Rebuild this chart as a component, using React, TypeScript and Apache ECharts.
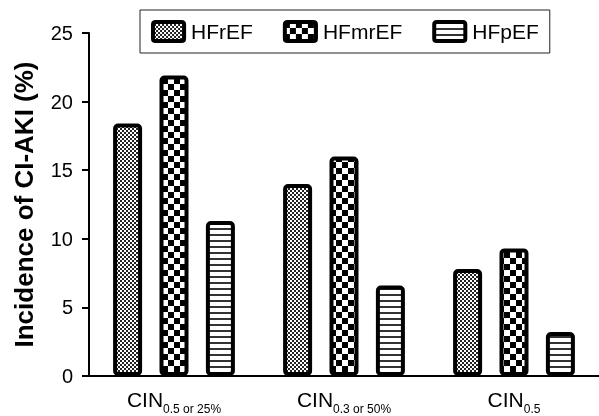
import React, { useEffect, useRef } from "react";
import * as echarts from "echarts";

const categoryPrefix = "CIN";
const categorySubs = ["0.5 or 25%", "0.3 or 50%", "0.5"];
const seriesNames = ["HFrEF", "HFmrEF", "HFpEF"];
const hfrEF = [18.4, 14.0, 7.8];
const hfmrEF = [21.9, 16.0, 9.3];
const hfpEF = [11.3, 6.6, 3.2];
const yTicks = { min: 0, max: 25, interval: 5 };

function makeCanvas(w: number, h: number, draw: (c: CanvasRenderingContext2D) => void) {
  const cv = document.createElement("canvas");
  cv.width = w;
  cv.height = h;
  const ctx = cv.getContext("2d")!;
  ctx.fillStyle = "#fff";
  ctx.fillRect(0, 0, w, h);
  ctx.fillStyle = "#000";
  draw(ctx);
  return cv;
}

export default function App() {
  const ref = useRef<HTMLDivElement>(null);
  useEffect(() => {
    if (!ref.current) return;
    const chart = echarts.init(ref.current, undefined, { renderer: "svg" });
    const fine = makeCanvas(4, 4, (c) => {
      c.fillStyle = "#222";
      c.fillRect(0, 0, 2, 2);
      c.fillRect(2, 2, 2, 2);
    });
    const coarse = makeCanvas(12, 12, (c) => {
      c.fillRect(0, 0, 6, 6);
      c.fillRect(6, 6, 6, 6);
    });
    const stripes = makeCanvas(6, 6, (c) => {
      c.fillStyle = "#333";
      c.fillRect(0, 0, 6, 2);
    });
    const patterns = [
      { image: fine, repeat: "repeat", imageWidth: 4, imageHeight: 4 },
      { image: coarse, repeat: "repeat", imageWidth: 12, imageHeight: 12 },
      { image: stripes, repeat: "repeat", imageWidth: 6, imageHeight: 6 },
    ];
    const values = [hfrEF, hfmrEF, hfpEF];
    const font = "'Liberation Sans', Arial, Helvetica, sans-serif";
    const iconPath =
      "path://M3,0 H33 Q36,0 36,3 V19 Q36,22 33,22 H3 Q0,22 0,19 V3 Q0,0 3,0 Z";
    chart.setOption({
      animation: false,
      textStyle: { fontFamily: font, color: "#000" },
      legend: {
        data: seriesNames,
        left: 140,
        top: 10,
        padding: [10, 11, 10, 11],
        borderColor: "#222",
        borderWidth: 1,
        itemGap: 30,
        itemWidth: 33,
        itemHeight: 19,
        icon: iconPath,
        itemStyle: { borderColor: "#000", borderWidth: 4 },
        textStyle: { fontSize: 21, color: "#000", fontFamily: font, padding: [0, 0, 0, 1] },
      },
      grid: { left: 89, right: -6, top: 33, bottom: 40 },
      xAxis: {
        type: "category",
        data: categorySubs,
        axisLine: { lineStyle: { color: "#000", width: 2 } },
        axisTick: { alignWithLabel: true, length: 8, lineStyle: { color: "#000", width: 2 } },
        axisLabel: {
          margin: 17,
          formatter: (v: string) => `{a|${categoryPrefix}}{b|${v}}`,
          rich: {
            a: { fontSize: 21, lineHeight: 22, padding: [0, 0, 5, 0], verticalAlign: "bottom", color: "#000", fontFamily: font },
            b: { fontSize: 12, lineHeight: 13, verticalAlign: "bottom", color: "#000", fontFamily: font },
          },
        },
      },
      yAxis: {
        type: "value",
        min: yTicks.min,
        max: yTicks.max,
        interval: yTicks.interval,
        name: "Incidence of CI-AKI (%)",
        nameLocation: "middle",
        nameGap: 52,
        nameTextStyle: { fontSize: 26, fontWeight: "bold", color: "#000", fontFamily: font },
        splitLine: { show: false },
        axisLine: { show: true, lineStyle: { color: "#000", width: 2 } },
        axisTick: { show: true, length: 7, lineStyle: { color: "#000", width: 2 } },
        axisLabel: { fontSize: 20, margin: 16, color: "#000" },
      },
      series: seriesNames.map((name, i) => ({
        name,
        type: "bar",
        data: values[i],
        barWidth: 29,
        barGap: "60%",
        itemStyle: {
          color: patterns[i],
          borderColor: "#000",
          borderWidth: 4,
          borderRadius: 3,
        },
      })),
    });
    return () => chart.dispose();
  }, []);
  return <div ref={ref} style={{ position: "fixed", left: 0, top: 0, width: 599, height: 416 }} />;
}
